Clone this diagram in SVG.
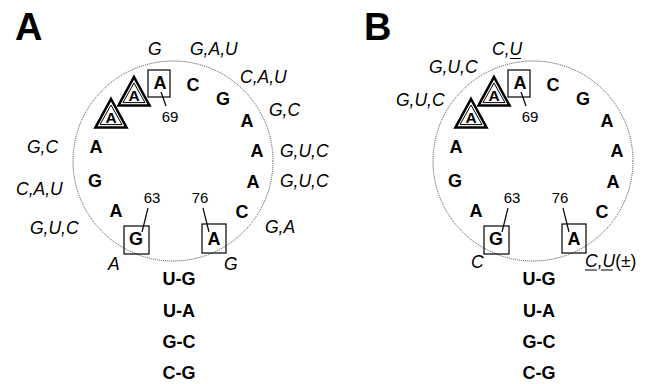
<svg xmlns="http://www.w3.org/2000/svg" xmlns:xlink="http://www.w3.org/1999/xlink" width="648" height="384" viewBox="0 0 648 384">
<style>
.panel{font-family:"Liberation Sans",Arial,sans-serif;font-weight:bold;font-size:38px;fill:#000}
.nt{font-family:"Liberation Sans",Arial,sans-serif;font-weight:bold;font-size:18px;fill:#000;text-anchor:middle}
.nt-s{font-size:15.5px}
.num{font-family:"Liberation Sans",Arial,sans-serif;font-size:15px;fill:#000;text-anchor:middle}
.lab{font-family:"Liberation Sans",Arial,sans-serif;font-style:italic;font-size:17.5px;fill:#000}
.up{font-style:normal}
.loop{fill:none;stroke:#333;stroke-width:0.9;stroke-dasharray:1 1}
.box{fill:none;stroke:#000;stroke-width:1.2}
.tri-o{fill:none;stroke:#000;stroke-width:2.6;stroke-linejoin:miter}
.tri-i{fill:none;stroke:#000;stroke-width:1}
.lead{stroke:#000;stroke-width:1.2}
.ul{stroke:#000;stroke-width:1}
</style>
<defs>
<g id="tri">
<path class="tri-o" d="M0,-1 L15.5,27.5 L-15.5,27.5 Z"/>
<path class="tri-i" d="M0,5 L11,24.6 L-11,24.6 Z"/>
</g>
<g id="loopcore">
<circle class="loop" cx="173" cy="161" r="100"/>
<g id="n69"><rect class="box" x="148" y="70" width="22" height="27"/><text class="nt" x="160" y="89">A</text></g>
<g id="nC1"><text class="nt" x="193" y="91">C</text></g>
<g id="nG1"><text class="nt" x="223" y="105">G</text></g>
<g id="nA1"><text class="nt" x="247" y="127">A</text></g>
<g id="nA2"><text class="nt" x="257" y="157">A</text></g>
<g id="nA3"><text class="nt" x="253" y="188">A</text></g>
<g id="nC2"><text class="nt" x="242" y="218">C</text></g>
<g id="n76"><rect class="box" x="202" y="224" width="24" height="29"/><text class="nt" x="214" y="245">A</text></g>
<g id="n63"><rect class="box" x="124" y="226" width="25" height="28"/><text class="nt" x="136" y="245">G</text></g>
<g id="nA4"><text class="nt" x="116" y="217">A</text></g>
<g id="nG2"><text class="nt" x="95" y="187">G</text></g>
<g id="nA5"><text class="nt" x="96" y="153">A</text></g>
<g id="nT1"><use xlink:href="#tri" x="111" y="100"/><text class="nt nt-s" x="111" y="122.5">A</text></g>
<g id="nT2"><use xlink:href="#tri" x="134" y="78"/><text class="nt nt-s" x="134" y="100.5">A</text></g>
<g id="leaders">
<line class="lead" x1="161" y1="92" x2="166" y2="106"/>
<line class="lead" x1="148" y1="208" x2="142" y2="232"/>
<line class="lead" x1="203" y1="208" x2="209" y2="232"/>
</g>
<text class="num" x="170" y="122">69</text>
<text class="num" x="152" y="203">63</text>
<text class="num" x="200" y="203">76</text>
<g id="stem">
<text class="nt" x="179" y="285">U-G</text>
<text class="nt" x="179" y="317">U-A</text>
<text class="nt" x="179" y="348">G-C</text>
<text class="nt" x="179" y="379">C-G</text>
</g>
</g>
</defs>
<g id="panelA">
<text class="panel" x="15" y="40">A</text>
<use xlink:href="#loopcore"/>
<g id="labelsA">
<text class="lab" x="148" y="55">G</text>
<text class="lab" x="190" y="55">G,A,U</text>
<text class="lab" x="240" y="83">C,A,U</text>
<text class="lab" x="269" y="116">G,C</text>
<text class="lab" x="280" y="157">G,U,C</text>
<text class="lab" x="280" y="187">G,U,C</text>
<text class="lab" x="265" y="233">G,A</text>
<text class="lab" x="224" y="270">G</text>
<text class="lab" x="108" y="270">A</text>
<text class="lab" x="30" y="234">G,U,C</text>
<text class="lab" x="16" y="195">C,A,U</text>
<text class="lab" x="27" y="153">G,C</text>
</g>
</g>
<g id="panelB">
<text class="panel" x="364" y="40">B</text>
<use xlink:href="#loopcore" x="360"/>
<g id="labelsB">
<text class="lab" x="492" y="55">C,U</text>
<line class="ul" x1="510" y1="58.5" x2="521" y2="58.5"/>
<text class="lab" x="429" y="73">G,U,C</text>
<text class="lab" x="396" y="106">G,U,C</text>
<text class="lab" x="471" y="268">C</text>
<text class="lab" x="585" y="267">C,U<tspan class="up">(±)</tspan></text>
<line class="ul" x1="585" y1="270" x2="597" y2="270"/>
<line class="ul" x1="601" y1="270" x2="613" y2="270"/>
</g>
</g>
</svg>
